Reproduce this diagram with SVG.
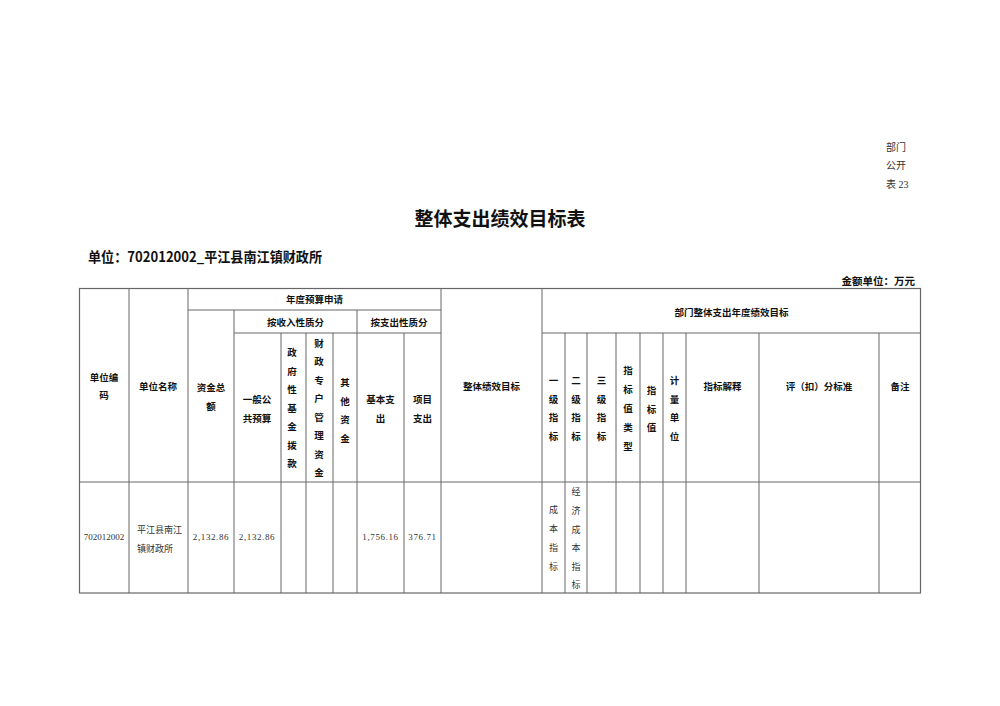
<svg xmlns="http://www.w3.org/2000/svg" width="1000" height="706" viewBox="0 0 1000 706">
<style>
.h{font-family:"Noto Sans CJK SC","Liberation Sans",sans-serif;font-weight:bold;font-size:9.5px;fill:#111;text-anchor:middle;dominant-baseline:central}
.d{font-family:"Liberation Serif","Noto Sans CJK SC",serif;font-size:9px;fill:#333;text-anchor:middle;dominant-baseline:central}
.dl{font-family:"Liberation Serif","Noto Sans CJK SC",serif;font-size:9px;fill:#333;text-anchor:start;dominant-baseline:central}
.n{font-family:"Liberation Serif","Noto Sans CJK SC",serif;font-size:10px;fill:#333;dominant-baseline:central}
line{stroke:#666;stroke-width:1}
</style>
<rect width="1000" height="706" fill="#fff"/>
<g id="caption">
<text class="n" x="886" y="147">部门</text>
<text class="n" x="886" y="165">公开</text>
<text class="n" x="886" y="184">表 23</text>
<text x="500" y="217" font-family="Noto Sans CJK SC,sans-serif" font-weight="bold" font-size="19" text-anchor="middle" dominant-baseline="central" fill="#111">整体支出绩效目标表</text>
<text x="88" y="256" font-family="Noto Sans CJK SC,sans-serif" font-weight="bold" font-size="14" dominant-baseline="central" fill="#111" textLength="234" lengthAdjust="spacingAndGlyphs">单位：702012002_平江县南江镇财政所</text>
<text x="915" y="280" font-family="Noto Sans CJK SC,sans-serif" font-weight="bold" font-size="10.5" text-anchor="end" dominant-baseline="central" fill="#111">金额单位：万元</text>
</g>
<g id="grid">
<rect x="79.5" y="288.5" width="841" height="304.5" fill="none" stroke="#666" stroke-width="1.2"/>
<line x1="188" y1="310" x2="441" y2="310"/>
<line x1="234" y1="333" x2="441" y2="333"/>
<line x1="542" y1="333" x2="921" y2="333"/>
<line x1="79" y1="482" x2="921" y2="482"/>
<line x1="129" y1="288" x2="129" y2="593"/>
<line x1="188" y1="288" x2="188" y2="593"/>
<line x1="441" y1="288" x2="441" y2="593"/>
<line x1="542" y1="288" x2="542" y2="593"/>
<line x1="234" y1="310" x2="234" y2="593"/>
<line x1="357" y1="310" x2="357" y2="593"/>
<line x1="281" y1="333" x2="281" y2="593"/>
<line x1="306" y1="333" x2="306" y2="593"/>
<line x1="333" y1="333" x2="333" y2="593"/>
<line x1="404" y1="333" x2="404" y2="593"/>
<line x1="565" y1="333" x2="565" y2="593"/>
<line x1="587" y1="333" x2="587" y2="593"/>
<line x1="616" y1="333" x2="616" y2="593"/>
<line x1="640" y1="333" x2="640" y2="593"/>
<line x1="663" y1="333" x2="663" y2="593"/>
<line x1="686" y1="333" x2="686" y2="593"/>
<line x1="759" y1="333" x2="759" y2="593"/>
<line x1="879" y1="333" x2="879" y2="593"/>
</g>
<g id="header">
<text class="h" x="314.5" y="299">年度预算申请</text>
<text class="h" x="295.5" y="322">按收入性质分</text>
<text class="h" x="399" y="322">按支出性质分</text>
<text class="h" x="731.5" y="311.5">部门整体支出年度绩效目标</text>
<text class="h" x="104" y="377">单位编</text>
<text class="h" x="104" y="395">码</text>
<text class="h" x="158" y="386">单位名称</text>
<text class="h" x="211" y="387">资金总</text>
<text class="h" x="211" y="406">额</text>
<text class="h" x="257" y="399">一般公</text>
<text class="h" x="257" y="418">共预算</text>
<g>
<text class="h" x="292" y="352">政</text><text class="h" x="292" y="370.5">府</text><text class="h" x="292" y="389">性</text><text class="h" x="292" y="407.5">基</text><text class="h" x="292" y="426">金</text><text class="h" x="292" y="444.5">拨</text><text class="h" x="292" y="463">款</text>
</g>
<g>
<text class="h" x="319" y="342.5">财</text><text class="h" x="319" y="361">政</text><text class="h" x="319" y="379.5">专</text><text class="h" x="319" y="398">户</text><text class="h" x="319" y="416.5">管</text><text class="h" x="319" y="435">理</text><text class="h" x="319" y="453.5">资</text><text class="h" x="319" y="472">金</text>
</g>
<g>
<text class="h" x="345" y="382">其</text><text class="h" x="345" y="400.5">他</text><text class="h" x="345" y="419">资</text><text class="h" x="345" y="437.5">金</text>
</g>
<text class="h" x="380.5" y="399">基本支</text>
<text class="h" x="380.5" y="418">出</text>
<text class="h" x="422.5" y="399">项目</text>
<text class="h" x="422.5" y="418">支出</text>
<text class="h" x="491.5" y="386">整体绩效目标</text>
<g>
<text class="h" x="553.5" y="380">一</text><text class="h" x="553.5" y="398.5">级</text><text class="h" x="553.5" y="417">指</text><text class="h" x="553.5" y="435.5">标</text>
</g>
<g>
<text class="h" x="576" y="380">二</text><text class="h" x="576" y="398.5">级</text><text class="h" x="576" y="417">指</text><text class="h" x="576" y="435.5">标</text>
</g>
<g>
<text class="h" x="601.5" y="380">三</text><text class="h" x="601.5" y="398.5">级</text><text class="h" x="601.5" y="417">指</text><text class="h" x="601.5" y="435.5">标</text>
</g>
<g>
<text class="h" x="628" y="370">指</text><text class="h" x="628" y="389">标</text><text class="h" x="628" y="408">值</text><text class="h" x="628" y="427">类</text><text class="h" x="628" y="446">型</text>
</g>
<g>
<text class="h" x="651.5" y="390">指</text><text class="h" x="651.5" y="408.5">标</text><text class="h" x="651.5" y="427">值</text>
</g>
<g>
<text class="h" x="674.5" y="380">计</text><text class="h" x="674.5" y="398.5">量</text><text class="h" x="674.5" y="417">单</text><text class="h" x="674.5" y="435.5">位</text>
</g>
<text class="h" x="722.5" y="386">指标解释</text>
<text class="h" x="819" y="386">评（扣）分标准</text>
<text class="h" x="900" y="386">备注</text>
</g>
<g id="row1">
<text class="d" x="104" y="537">702012002</text>
<text class="dl" x="137" y="530">平江县南江</text>
<text class="dl" x="137" y="549">镇财政所</text>
<text class="d" x="211" y="537" letter-spacing="0.6">2,132.86</text>
<text class="d" x="257" y="537" letter-spacing="0.6">2,132.86</text>
<text class="d" x="380.5" y="537" letter-spacing="0.6">1,756.16</text>
<text class="d" x="422.5" y="537" letter-spacing="0.6">376.71</text>
<g>
<text class="d" x="553.5" y="510">成</text><text class="d" x="553.5" y="529">本</text><text class="d" x="553.5" y="548">指</text><text class="d" x="553.5" y="567">标</text>
</g>
<g>
<text class="d" x="576" y="491.5">经</text><text class="d" x="576" y="510.5">济</text><text class="d" x="576" y="529.5">成</text><text class="d" x="576" y="548">本</text><text class="d" x="576" y="566.5">指</text><text class="d" x="576" y="585">标</text>
</g>
</g>
</svg>
